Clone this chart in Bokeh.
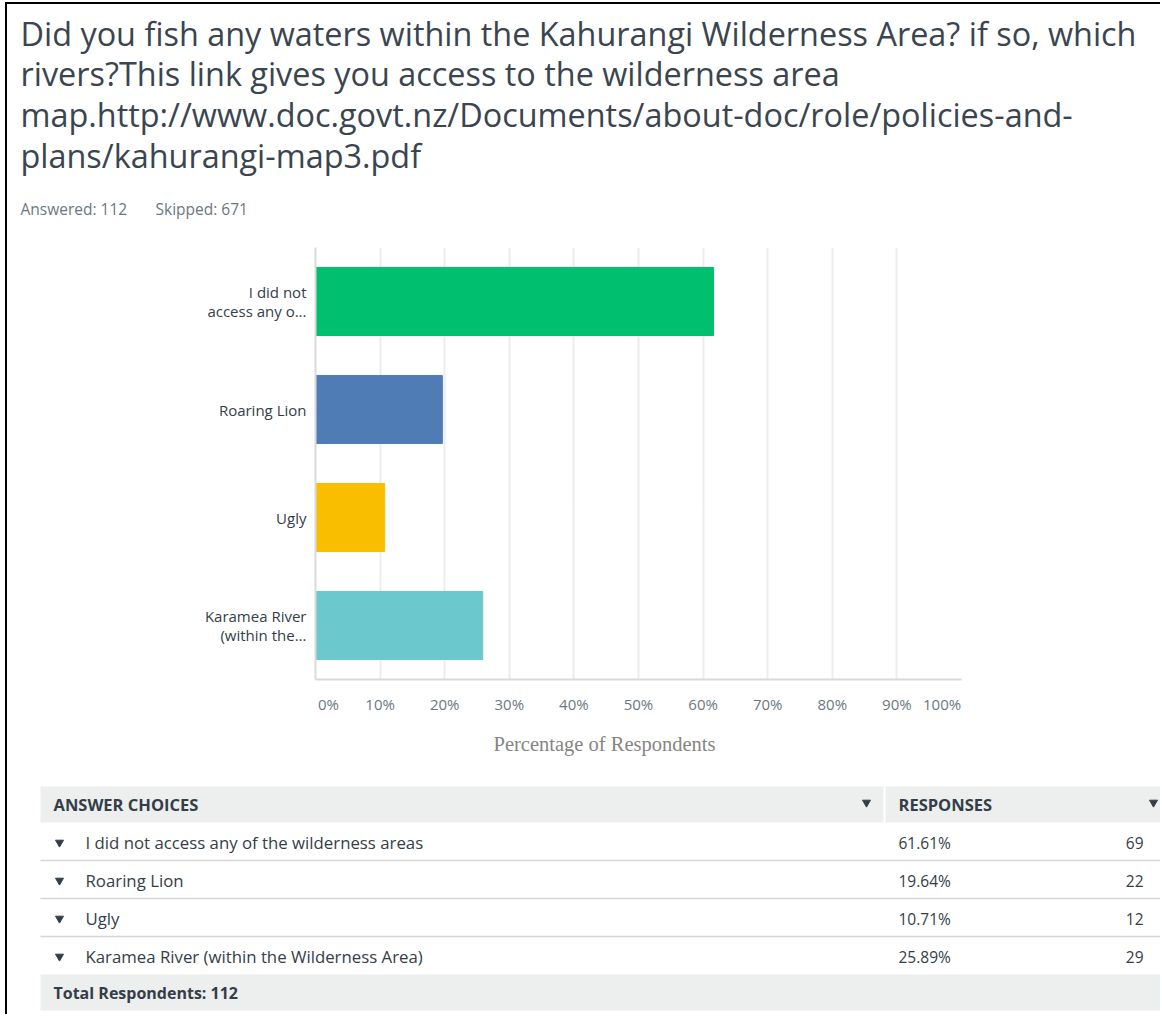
from bokeh.plotting import figure
from bokeh.models import Range1d, FactorRange, FixedTicker, Title, ColumnDataSource
from bokeh.core.properties import value
from bokeh.embed import file_html
from bokeh.resources import INLINE

# ---------------- data ----------------
title_lines = [
    "Did you fish any waters within the Kahurangi Wilderness Area? if so, which",
    "rivers?This link gives you access to the wilderness area",
    "map.http://www.doc.govt.nz/Documents/about-doc/role/policies-and-",
    "plans/kahurangi-map3.pdf",
]
answered = 112
skipped = 671
choices = [
    "I did not access any of the wilderness areas",
    "Roaring Lion",
    "Ugly",
    "Karamea River (within the Wilderness Area)",
]
short_labels = ["I did not\naccess any o...", "Roaring Lion", "Ugly", "Karamea River\n(within the..."]
percents = [61.61, 19.64, 10.71, 25.89]
counts = [69, 22, 12, 29]
bar_colors = ["#00bf6f", "#507cb6", "#f9be00", "#6bc8cd"]
x_ticks = [0, 10, 20, 30, 40, 50, 60, 70, 80, 90, 100]
x_tick_labels = ["0%", "10%", "20%", "30%", "40%", "50%", "60%", "70%", "80%", "90%", "100%"]
x_label = "Percentage of Respondents"
total_respondents = 112

FONT = "Open Sans"
DARK = "#333e48"
GREY = "#6b787f"
W = 1155
BORDER = "2px solid #000"


def blank(height, width=W, top_border=False):
    styles = {"border-left": BORDER, "margin-left": "5px"}
    if top_border:
        styles["border-top"] = BORDER
        styles["margin-top"] = "2px"
    f = figure(width=width, height=height, x_range=Range1d(0, width), y_range=Range1d(height, 0),
               output_backend="svg", toolbar_location=None, min_border=0,
               x_axis_location=None, y_axis_location=None, styles=styles)
    f.grid.visible = False
    f.outline_line_color = None
    return f


# ---------------- header ----------------
HH = 245
h = blank(HH, top_border=True)
h.text(x=[13] * len(title_lines), y=[28, 68.5, 109, 150], text=title_lines,
       text_font=value(FONT), text_font_size="32.4px", text_color="#3a4550", text_baseline="middle")
h.text(x=[13, 148], y=[204, 204], text=[f"Answered: {answered}", f"Skipped: {skipped}"],
       text_font=value(FONT), text_font_size="15.5px", text_color=GREY, text_baseline="middle")

# ---------------- chart ----------------
factors = short_labels[::-1]
src = ColumnDataSource(dict(label=short_labels, pct=percents, color=bar_colors))
p = figure(width=W, height=521, y_range=FactorRange(factors=factors), x_range=Range1d(0, 100),
           output_backend="svg", toolbar_location=None,
           styles={"border-left": BORDER, "margin-left": "5px"},
           min_border_left=308, min_border_right=201, min_border_top=0, min_border_bottom=89)
p.hbar(y="label", left=0, right="pct", height=0.63, fill_color="color", line_color="color", source=src)
p.outline_line_color = None
p.ygrid.grid_line_color = None
p.xgrid.ticker = FixedTicker(ticks=x_ticks)
p.xgrid.grid_line_color = "#ececec"
p.xgrid.grid_line_width = 2

label_pos = list(x_ticks)
label_pos[0] = x_ticks[0] + 2
label_pos[-1] = x_ticks[-1] - 3
p.xaxis.ticker = FixedTicker(ticks=label_pos)
p.xaxis.major_label_overrides = {pos: lab for pos, lab in zip(label_pos, x_tick_labels)}
p.xaxis.major_tick_line_color = None
p.xaxis.minor_tick_line_color = None
p.xaxis.axis_line_color = "#d9d9d9"
p.xaxis.axis_line_width = 2
p.xaxis.major_label_standoff = 8
p.xaxis.major_label_text_font = FONT
p.xaxis.major_label_text_font_size = "15px"
p.xaxis.major_label_text_color = GREY

p.yaxis.major_tick_line_color = None
p.yaxis.minor_tick_line_color = None
p.yaxis.axis_line_color = "#d9d9d9"
p.yaxis.axis_line_width = 2
p.yaxis.major_label_standoff = 3
p.yaxis.major_label_text_font = FONT
p.yaxis.major_label_text_font_size = "15px"
p.yaxis.major_label_text_color = DARK
p.yaxis.major_label_text_line_height = 0.93

p.add_layout(Title(text=x_label, align="left", offset=178, text_font="Liberation Serif",
                   text_font_size="20.5px", text_font_style="normal", text_color="#858585",
                   standoff=28), "below")

# ---------------- table ----------------
TH = 246
t = blank(TH)
t.quad(left=[33, 33], right=[W, W], top=[18, 206], bottom=[54, 242], fill_color="#edeeee", line_color=None)
t.quad(left=[876], right=[878], top=[18], bottom=[54], fill_color="white", line_color=None)
t.text(x=[46, 891], y=[36, 36], text=["ANSWER CHOICES", "RESPONSES"], text_font=value(FONT),
       text_font_size="16.5px", text_font_style="bold", text_color=DARK, text_baseline="middle")
t.scatter(x=[859, 1146], y=[34, 34], marker="inverted_triangle", size=8, color=DARK)

row_y = [74 + 38 * i for i in range(len(choices))]
t.segment(x0=[33] * 3, x1=[W] * 3, y0=[y + 18 for y in row_y[:-1]], y1=[y + 18 for y in row_y[:-1]],
          line_color="#d6d6d6", line_width=1.5)
t.scatter(x=[52] * len(choices), y=row_y, marker="inverted_triangle", size=8, color=DARK)
t.text(x=[78] * len(choices), y=row_y, text=choices, text_font=value(FONT), text_font_size="16.8px",
       text_color=DARK, text_baseline="middle")
t.text(x=[891] * len(choices), y=row_y, text=[f"{v:.2f}%" for v in percents], text_font=value(FONT),
       text_font_size="15.5px", text_color=DARK, text_baseline="middle")
t.text(x=[1136] * len(choices), y=row_y, text=[str(c) for c in counts], text_font=value(FONT),
       text_font_size="15.5px", text_color=DARK, text_baseline="middle", text_align="right")
t.text(x=[46], y=[224], text=[f"Total Respondents: {total_respondents}"], text_font=value(FONT),
       text_font_size="16px", text_font_style="bold", text_color=DARK, text_baseline="middle")

open("out.html", "w").write(file_html((h, p, t), INLINE))
